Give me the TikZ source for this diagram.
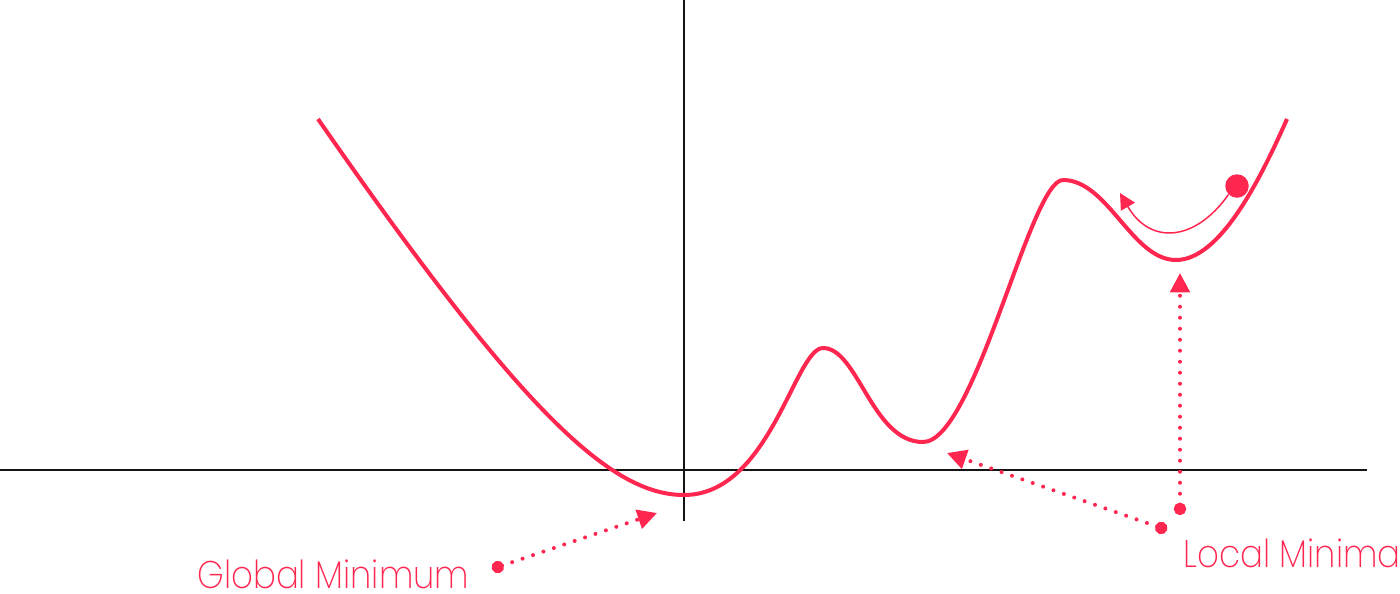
\documentclass[tikz,border=0pt]{standalone}
\usepackage{fontspec}
\setmainfont{Poppins ExtraLight}[FakeStretch=0.88]
\usetikzlibrary{arrows.meta}
\definecolor{crimson}{RGB}{255,38,80}
\definecolor{axisgray}{RGB}{20,20,20}

\begin{document}
\begin{tikzpicture}[x=0.02cm, y=-0.02cm,
    axis/.style={axisgray, line width=0.04cm},
    curve/.style={crimson, line width=0.08cm, line join=round},
    pointer/.style={crimson, line width=0.08cm, line cap=round,
        dash pattern=on 0pt off 0.22cm,
        {Circle[length=7pt]}-{Triangle[length=11pt,width=11pt]}},
    label/.style={crimson, font=\fontsize{22}{24}\selectfont, anchor=base west, inner sep=0pt}]

    % Frame of the picture
    \clip (0,0) rectangle (1400,593);

    % Axes
    \draw[axis] (0,470) -- (1367,470);
    \draw[axis] (684,0) -- (684,521);

    % Loss curve
    \coordinate (start) at (318,119);
    \coordinate (gmin) at (684,495);
    \coordinate (peakA) at (823,348);
    \coordinate (lminA) at (923,442);
    \coordinate (peakB) at (1063,180);
    \coordinate (lminB) at (1176,260);
    \coordinate (stop) at (1287,119);
    \draw[curve] (start) .. controls (520,410) and (610,495) .. (gmin)
        .. controls (770,495) and (795,348) .. (peakA)
        .. controls (858,348) and (872,442) .. (lminA)
        .. controls (975,442) and (1030,180) .. (peakB)
        .. controls (1108,180) and (1132,260) .. (lminB)
        .. controls (1220,260) and (1260,180) .. (stop);

    % Ball rolling in the local valley
    \node[circle, fill=crimson, minimum size=0.47cm, inner sep=0pt] (ball) at (1237,186) {};
    \coordinate (roll) at (1120,193);
    \draw[crimson, line width=0.03cm, -{Triangle[length=9pt,width=9pt]}]
        (ball.south west) .. controls (1195,242) and (1150,245) .. (roll);

    % Labels
    \node[label] (global) at (197,588) {Global Minimum};
    \node[label] (local) at (1183,567) {Local Minima};

    % Pointers
    \coordinate (gdot) at (492,569);
    \coordinate (gtip) at (657,513);
    \coordinate (ldotA) at (1167,530);
    \coordinate (ltipA) at (947,453);
    \coordinate (ldotB) at (1180,515);
    \coordinate (ltipB) at (1180,273);
    \draw[pointer] (gdot) -- (gtip);
    \draw[pointer] (ldotA) -- (ltipA);
    \draw[pointer] (ldotB) -- (ltipB);

\end{tikzpicture}
\end{document}
